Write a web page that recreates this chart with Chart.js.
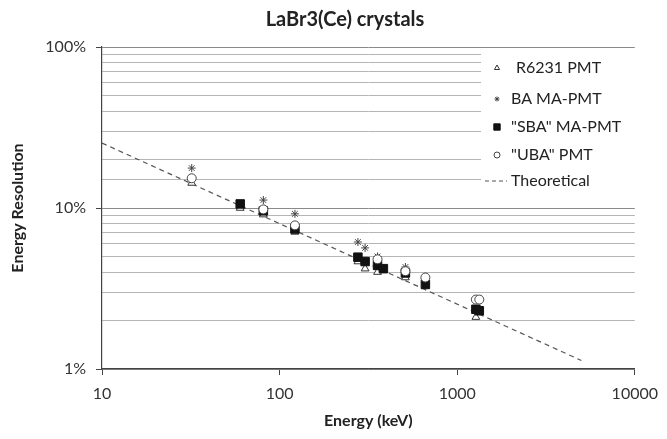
<!DOCTYPE html>
<html>
<head>
<meta charset="utf-8">
<script src="https://cdn.jsdelivr.net/npm/chart.js@4/dist/chart.umd.min.js"></script>
<style>
  html, body { margin: 0; padding: 0; background: #fff; }
  #wrap { width: 667px; height: 439px; }
</style>
</head>
<body>
<div id="wrap"><canvas id="mChart"></canvas></div>
<script>
// data (energy in keV, resolution in %)
var energyR6231 = [32, 60, 81, 122, 276, 303, 356, 511, 1274];
var resR6231    = [14.3, 10.0, 9.1, 7.1, 4.65, 4.2, 4.0, 3.7, 2.1];

var energyBA = [32, 81, 122, 276, 303, 356, 511];
var resBA    = [17.7, 11.2, 9.2, 6.15, 5.65, 5.0, 4.3];

var energySBA = [60, 81, 122, 276, 303, 356, 384, 511, 662, 1274, 1332];
var resSBA    = [10.6, 9.6, 7.4, 4.95, 4.65, 4.4, 4.2, 3.95, 3.35, 2.35, 2.3];

var energyUBA = [32, 81, 122, 356, 511, 662, 1274, 1332];
var resUBA    = [15.3, 9.8, 7.8, 4.8, 4.05, 3.7, 2.7, 2.7];

var energyTheory = [10, 5000];
var resTheory    = [25.3, 1.13];

var xTicks = [10, 100, 1000, 10000];
var yLabelled = [1, 10, 100];

var fontFamily = 'Lato, "Open Sans", sans-serif';

function pairs(xs, ys) {
    var out = [];
    for (var i = 0; i < xs.length; i++) {
        out.push({ x: xs[i], y: ys[i] });
    }
    return out;
}

// legend drawn inside the plot, on a white box like the original
var boxLegend = {
    id: 'boxLegend',
    beforeDatasetsDraw: function(chart) {
        var ctx = chart.ctx;
        ctx.save();
        ctx.fillStyle = '#fff';
        ctx.fillRect(481, 51, 159, 150);

        var rows = [68, 99, 127, 155, 181];
        var sets = chart.data.datasets;
        ctx.font = '16px ' + fontFamily;
        ctx.textBaseline = 'middle';
        for (var i = 0; i < sets.length; i++) {
            var ds = sets[i];
            var y = rows[i];
            if (ds.showLine) {
                ctx.strokeStyle = ds.borderColor;
                ctx.lineWidth = 1.2;
                ctx.setLineDash([4, 3]);
                ctx.beginPath();
                ctx.moveTo(485, y);
                ctx.lineTo(507, y);
                ctx.stroke();
                ctx.setLineDash([]);
            } else {
                ctx.fillStyle = ds.pointBackgroundColor;
                ctx.strokeStyle = ds.pointBorderColor;
                ctx.lineWidth = 1;
                Chart.helpers.drawPoint(ctx, {
                    pointStyle: ds.pointStyle,
                    radius: ds.pointRadius - 1.5,
                    rotation: 0,
                    borderWidth: 1
                }, 497, y);
            }
            ctx.fillStyle = '#222';
            ctx.fillText(ds.label, i === 0 ? 516 : 511, y);
        }
        ctx.restore();
    },
    afterDraw: function(chart) {
        var ctx = chart.ctx;
        ctx.save();
        ctx.fillStyle = '#222';
        ctx.font = 'bold 20px ' + fontFamily;
        ctx.textAlign = 'center';
        ctx.textBaseline = 'middle';
        ctx.fillText('LaBr3(Ce) crystals', 345, 20);
        ctx.restore();
    }
};

var ctx = document.getElementById('mChart');
var myChart = new Chart(ctx, {
    type: 'scatter',
    data: {
        datasets: [
            {
                label: 'R6231 PMT',
                data: pairs(energyR6231, resR6231),
                pointStyle: 'triangle',
                pointRadius: 4.5,
                pointBackgroundColor: '#fff',
                pointBorderColor: '#333',
                pointBorderWidth: 1,
                order: 3
            },
            {
                label: 'BA MA-PMT',
                data: pairs(energyBA, resBA),
                pointStyle: 'star',
                pointRadius: 4,
                pointBackgroundColor: '#444',
                pointBorderColor: '#444',
                pointBorderWidth: 1,
                order: 2
            },
            {
                label: '"SBA" MA-PMT',
                data: pairs(energySBA, resSBA),
                pointStyle: 'rect',
                pointRadius: 6,
                pointBackgroundColor: '#111',
                pointBorderColor: '#111',
                pointBorderWidth: 1,
                order: 1
            },
            {
                label: '"UBA" PMT',
                data: pairs(energyUBA, resUBA),
                pointStyle: 'circle',
                pointRadius: 4.5,
                pointBackgroundColor: '#fff',
                pointBorderColor: '#444',
                pointBorderWidth: 1,
                order: 0
            },
            {
                label: 'Theoretical',
                data: pairs(energyTheory, resTheory),
                showLine: true,
                pointRadius: 0,
                borderColor: '#555',
                borderWidth: 1.2,
                borderDash: [5, 4],
                order: 4
            }
        ]
    },
    options: {
        responsive: true,
        maintainAspectRatio: false,
        animation: false,
        layout: { padding: { top: 47, right: 27, bottom: 0, left: 0 } },
        plugins: {
            legend: { display: false },
            tooltip: { enabled: false }
        },
        scales: {
            x: {
                type: 'logarithmic',
                min: 10,
                max: 10000,
                afterBuildTicks: function(scale) {
                    scale.ticks = xTicks.map(function(v) { return { value: v }; });
                },
                afterFit: function(scale) { scale.height = 70; },
                ticks: {
                    autoSkip: false,
                    maxRotation: 0,
                    padding: 9,
                    color: '#333',
                    font: { family: fontFamily, size: 16 },
                    callback: function(v) { return String(v); }
                },
                grid: { drawOnChartArea: false, tickLength: 6, color: '#444' },
                border: { color: '#444', width: 1.2 },
                title: {
                    display: true,
                    text: 'Energy (keV)',
                    color: '#222',
                    font: { family: fontFamily, size: 16, weight: 'bold' },
                    padding: { top: 0, bottom: 9 }
                }
            },
            y: {
                type: 'logarithmic',
                min: 1,
                max: 100,
                afterFit: function(scale) { scale.width = 102; },
                ticks: {
                    autoSkip: false,
                    padding: 10,
                    color: '#333',
                    font: { family: fontFamily, size: 16 },
                    callback: function(v) {
                        return yLabelled.indexOf(v) >= 0 ? v + '%' : '';
                    }
                },
                grid: {
                    tickLength: 6,
                    color: function(c) {
                        return c.tick && yLabelled.indexOf(c.tick.value) >= 0 ? '#8a8a8a' : '#b5b5b5';
                    },
                    tickColor: function(c) {
                        return c.tick && yLabelled.indexOf(c.tick.value) >= 0 ? '#444' : 'rgba(0,0,0,0)';
                    }
                },
                border: { color: '#444', width: 1.2 },
                title: {
                    display: true,
                    text: 'Energy Resolution',
                    color: '#222',
                    font: { family: fontFamily, size: 16, weight: 'bold' },
                    padding: { top: 8, bottom: 0 }
                }
            }
        }
    },
    plugins: [boxLegend]
});
</script>
</body>
</html>
